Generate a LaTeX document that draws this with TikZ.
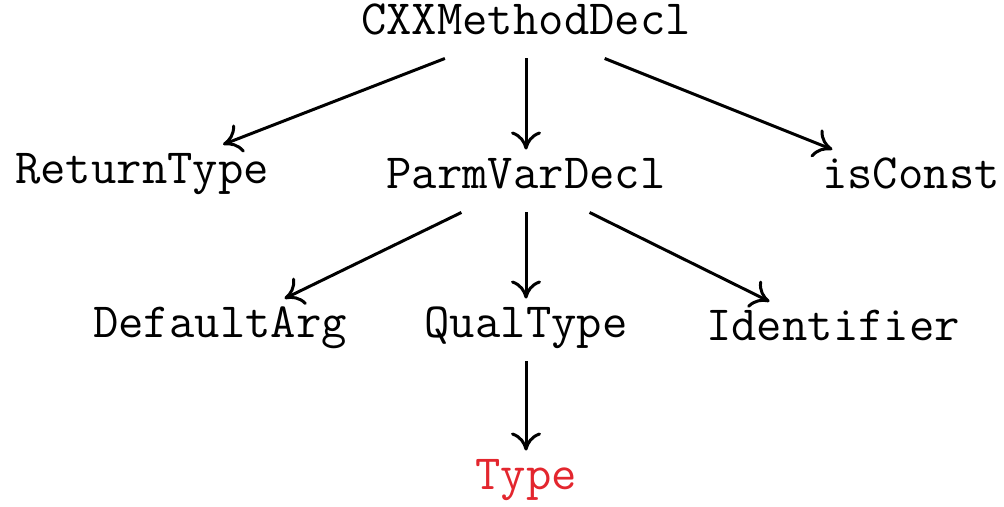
\documentclass[tikz,border=0pt]{standalone}
\usepackage{fontspec}
\setmonofont{Latin Modern Mono}
\usepackage{xcolor}
\usetikzlibrary{arrows.meta}
\definecolor{typered}{HTML}{E3262E}
\tikzset{
  astnode/.style={font=\ttfamily\fontsize{14pt}{16pt}\selectfont, inner sep=4pt,
    text height=0.7em, text depth=0.25em},
  edge/.style={-{To[length=1.8mm, width=3mm]}, line width=0.85pt, color=black}
}

\begin{document}
\begin{tikzpicture}[x=0.01cm, y=-0.01cm]
\useasboundingbox (0,0) rectangle (1004,507);
% nodes of the tree
\node[astnode] (cxx)   at (526,27)  {CXXMethodDecl};
\node[astnode] (ret)   at (142,176) {ReturnType};
\node[astnode] (parm)  at (526,181) {ParmVarDecl};
\node[astnode] (const) at (911,181) {isConst};
\node[astnode] (def)   at (220,330) {DefaultArg};
\node[astnode] (qual)  at (526,330) {QualType};
\node[astnode] (ident) at (833,333) {Identifier};
\node[astnode, text=typered] (type) at (526,482) {Type};
% edges
\draw[edge] (cxx) -- (ret);
\draw[edge] (cxx) -- (parm);
\draw[edge] (cxx) -- (const);
\draw[edge] (parm) -- (def);
\draw[edge] (parm) -- (qual);
\draw[edge] (parm) -- (ident);
\draw[edge] (qual) -- (type);
\end{tikzpicture}
\end{document}
